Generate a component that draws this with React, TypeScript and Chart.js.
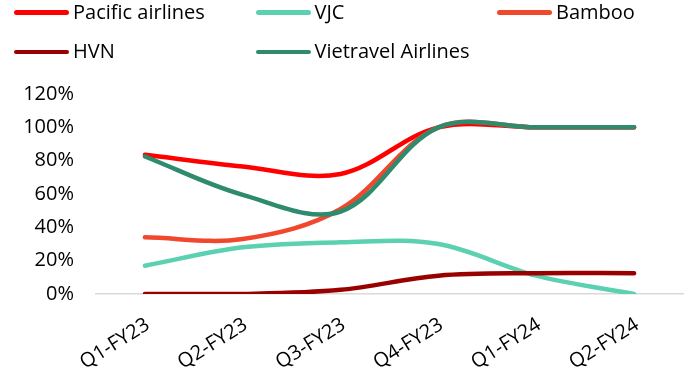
import React, { useEffect, useRef } from "react";
import { Chart, registerables } from "chart.js";

Chart.register(...registerables);

const categories = ["Q1-FY23", "Q2-FY23", "Q3-FY23", "Q4-FY23", "Q1-FY24", "Q2-FY24"];
const seriesNames = ["Pacific airlines", "VJC", "Bamboo", "HVN", "Vietravel Airlines"];
const seriesColors = ["#FF0000", "#5CD1B1", "#F0472D", "#990000", "#2E8B6E"];

const pacificValues = [83.5, 76.5, 72, 100, 100, 100];
const vjcValues = [17, 28, 31, 30, 11, 0];
const bambooValues = [34, 33, 51, 100, 100, 100];
const hvnValues = [0, 0, 2.5, 11, 12.5, 12.5];
const vietravelValues = [82.5, 59.5, 49.5, 100, 100, 100];

const seriesValues = [pacificValues, vjcValues, bambooValues, hvnValues, vietravelValues];

const yMin = 0;
const yMax = 120;
const yStep = 20;

const FONT = "'Open Sans', 'Noto Sans', sans-serif";

export default function App() {
  const ref = useRef<HTMLCanvasElement>(null);

  useEffect(() => {
    document.body.style.margin = "0";
    const chart = new Chart(ref.current!, {
      type: "line",
      data: {
        labels: categories,
        datasets: seriesValues.map((d, i) => ({
          label: seriesNames[i],
          data: d,
          borderColor: seriesColors[i],
          backgroundColor: seriesColors[i],
          borderWidth: 4.5,
          pointRadius: 0,
          pointHoverRadius: 0,
          tension: 0.35,
          borderCapStyle: "round",
          borderJoinStyle: "round",
          fill: false,
          order: seriesValues.length - i,
        })),
      },
      options: {
        responsive: false,
        animation: false,
        layout: { padding: { left: 0, right: 8, top: 94, bottom: 0 } },
        plugins: { legend: { display: false }, tooltip: { enabled: false } },
        scales: {
          x: {
            offset: true,
            grid: { display: false, drawTicks: false },
            border: { display: true, color: "#D9D9D9", width: 1.5 },
            ticks: {
              color: "#000",
              font: { family: FONT, size: 20 },
              minRotation: 32,
              maxRotation: 32,
              padding: 19,
              labelOffset: 3,
              autoSkip: false,
            },
            afterFit: (s: any) => {
              s.height = 74;
            },
          },
          y: {
            min: yMin,
            max: yMax,
            grid: { display: false, drawTicks: false },
            border: { display: false },
            ticks: {
              stepSize: yStep,
              padding: 22,
              color: "#000",
              font: { family: FONT, size: 20 },
              callback: (v: any) => v + "%",
            },
            afterFit: (s: any) => {
              s.width = 96;
            },
          },
        },
      },
    });
    return () => chart.destroy();
  }, []);

  return (
    <div style={{ position: "relative", width: 691, height: 368 }}>
      <canvas ref={ref} width={691} height={368} style={{ display: "block" }} />
      {seriesNames.map((name, i) => {
        const col = i % 3;
        const row = Math.floor(i / 3);
        const left = 14 + col * 241.5;
        const cy = 12.7 + row * 39.3;
        return (
          <React.Fragment key={name}>
            <div
              style={{
                position: "absolute",
                left,
                top: cy - 2.25,
                width: 55,
                height: 4.5,
                borderRadius: 3,
                background: seriesColors[i],
              }}
            />
            <div
              style={{
                position: "absolute",
                left: left + 59,
                top: cy - 10.6,
                fontFamily: FONT,
                fontSize: 20,
                lineHeight: "20px",
                color: "#000",
                whiteSpace: "nowrap",
              }}
            >
              {name}
            </div>
          </React.Fragment>
        );
      })}
    </div>
  );
}
